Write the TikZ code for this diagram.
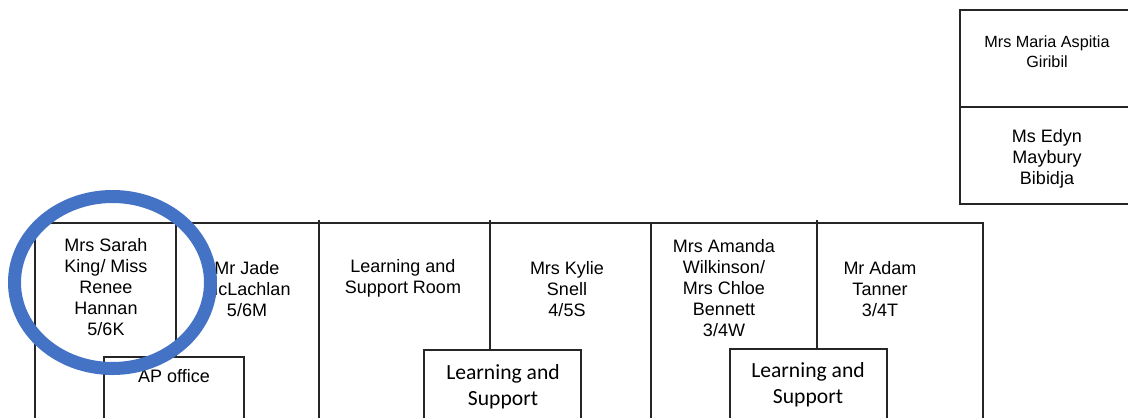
\documentclass[tikz,border=0pt]{standalone}
\usepackage{fontspec}
\setmainfont{Liberation Sans}
\newfontfamily\calfont{Carlito}
\begin{document}
\begin{tikzpicture}[x=1pt,y=-1pt,
  wall/.style={draw=black!85,line width=1.3pt},
  lbl/.style={align=center,inner sep=0pt,font=\fontsize{18}{21}\selectfont},
  small/.style={align=center,inner sep=0pt,font=\fontsize{16.2}{20}\selectfont},
  cal/.style={align=center,inner sep=0pt,font=\calfont\fontsize{21.6}{26}\selectfont},
  ring/.style={draw={rgb,255:red,68;green,114;blue,196},line width=13pt}]
\useasboundingbox (0,0) rectangle (1128,418);
% top-right block
\draw[wall] (1130,10) -- (960,10) -- (960,204) -- (1130,204);
\draw[wall] (960,107) -- (1130,107);
% bottom row
\draw[wall] (35,418) -- (35,223) -- (983,223) -- (983,418);
\draw[wall] (176,223) -- (176,357);
\draw[wall] (319,220) -- (319,418);
\draw[wall] (490,220) -- (490,350);
\draw[wall] (651,223) -- (651,418);
\draw[wall] (817,220) -- (817,349);
% small boxes
\draw[wall] (104,418) -- (104,357) -- (244,357) -- (244,418);
\draw[wall] (424,418) -- (424,350) -- (581,350) -- (581,418);
\draw[wall] (730,418) -- (730,349) -- (887,349) -- (887,418);
% labels
\node[small] (maria) at (1047,52) {Mrs Maria Aspitia\\Giribil};
\node[lbl] (edyn) at (1047,158.5) {Ms Edyn\\Maybury\\Bibidja};
\node[lbl] (sarah) at (106,287.5) {Mrs Sarah\\King/ Miss\\Renee\\Hannan\\5/6K};
\node[lbl] (jade) at (247,289.5) {Mr Jade\\McLachlan\\5/6M};
\node[lbl] (lsroom) at (403,278) {Learning and\\Support Room};
\node[lbl] (kylie) at (567,289.5) {Mrs Kylie\\Snell\\4/5S};
\node[lbl] (amanda) at (724,288.5) {Mrs Amanda\\Wilkinson/\\Mrs Chloe\\Bennett\\3/4W};
\node[lbl] (adam) at (880,289.5) {Mr Adam\\Tanner\\3/4T};
\node[lbl] (ap) at (174,376) {AP office};
\node[cal] (ls1) at (503,387) {Learning and\\Support};
\node[cal] (ls2) at (808,385) {Learning and\\Support};
% highlight ring
\draw[ring] (112.5,282.5) ellipse [x radius=98,y radius=86];
\end{tikzpicture}
\end{document}
